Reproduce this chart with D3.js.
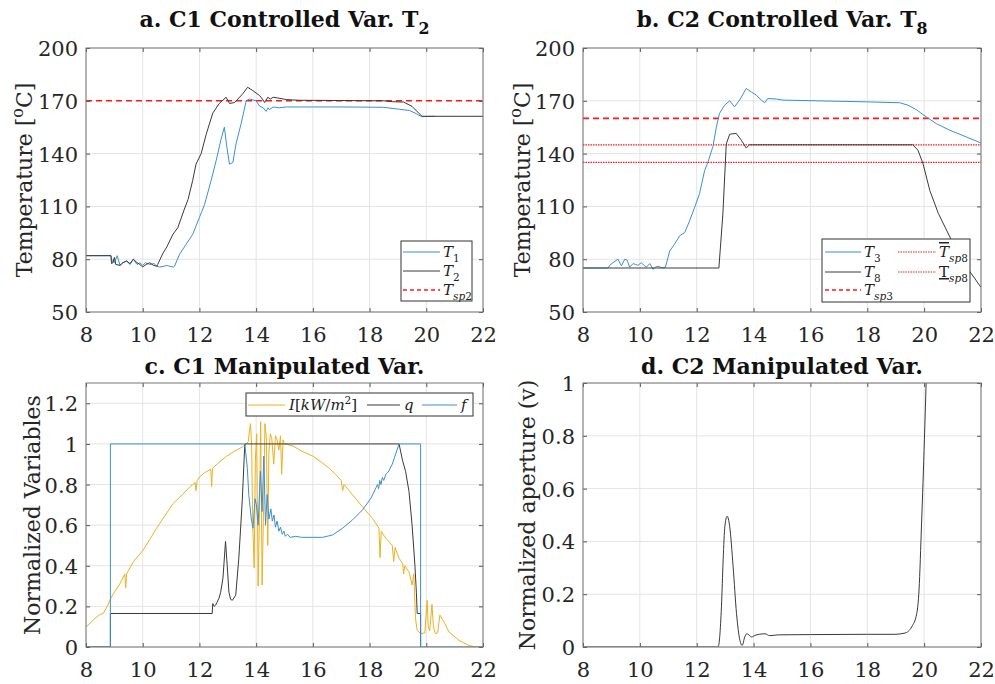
<!DOCTYPE html>
<html><head><meta charset="utf-8">
<script src="https://cdn.jsdelivr.net/npm/d3@7"></script>
<style>
html,body{margin:0;padding:0;background:#fff;}
</style></head>
<body>
<svg id="chart" width="995" height="684"></svg>
<script>
// ---------------- DATA ----------------
const xTicks = [8, 10, 12, 14, 16, 18, 20, 22];
const tempTicks = [50, 80, 110, 140, 170, 200];
const normTicksC = [0, 0.2, 0.4, 0.6, 0.8, 1, 1.2];
const normTicksD = [0, 0.2, 0.4, 0.6, 0.8, 1];

const T1 = [[8,82],[8.88,82],[8.92,79],[9.0,78],[9.1,82],[9.2,76.5],[9.3,78],[9.43,79],[9.55,77],[9.67,80],[9.8,77],[9.9,78],[10.0,76.5],[10.1,78],[10.25,77],[10.4,77.5],[10.5,76],[10.6,75.5],[10.75,76],[10.84,76.5],[10.95,76],[11.08,75.5],[11.12,76],[11.3,82.8],[11.53,88.5],[11.76,94],[12.0,103.7],[12.18,111],[12.41,124.6],[12.59,136],[12.76,148],[12.88,155],[12.96,144.5],[13.06,134],[13.18,135],[13.29,145.5],[13.47,157],[13.65,170],[13.76,171],[14.0,170],[14.12,167],[14.25,166],[14.35,164],[14.42,166],[14.47,165],[14.6,166.5],[14.82,166],[15.06,166.5],[16,166.5],[17,166.5],[18.5,166.3],[19.05,165.2],[19.4,164.5],[19.65,162.7],[19.83,161],[20.3,161.2]];
const T2 = [[8,82],[8.88,82],[8.9,77.5],[8.95,78],[9.0,81],[9.05,77],[9.2,76.5],[9.3,78],[9.43,79],[9.55,77.5],[9.67,80],[9.8,78],[9.9,77],[10.0,75.6],[10.12,77],[10.25,78],[10.38,76.5],[10.5,76],[10.53,77],[10.7,83],[10.85,87],[11.06,94],[11.24,98],[11.47,108.5],[11.6,114],[11.76,124.6],[11.88,134],[12.06,140],[12.24,151],[12.47,163],[12.7,168.5],[12.94,172],[13.06,168.5],[13.24,169],[13.53,174],[13.7,177.7],[13.88,175.8],[14.12,173],[14.22,171],[14.3,169],[14.41,172],[14.5,171],[14.6,172],[14.8,171.5],[15.06,170.7],[15.5,170.3],[16.5,170.2],[18.5,170],[18.8,169.5],[19.2,169.3],[19.5,166.8],[19.75,162.7],[19.85,161.2],[22,161.2]];
const Tsp2 = 170;

const T3 = [[8,75],[8.88,75],[8.94,76.5],[9.05,78],[9.23,80],[9.35,76.2],[9.47,80],[9.55,79.5],[9.64,75.5],[9.76,77.5],[9.85,77],[9.93,76.5],[10.05,78],[10.15,76.5],[10.23,75.5],[10.35,77.5],[10.46,74.3],[10.55,75.5],[10.64,76],[10.72,75.5],[10.81,75],[10.9,75.5],[11.05,84.7],[11.22,88.5],[11.4,93.3],[11.58,95.2],[11.75,101.8],[11.93,109.6],[12.1,117.3],[12.28,130.5],[12.4,135.3],[12.57,144],[12.69,155],[12.8,162.8],[12.98,167.5],[13.16,170],[13.33,166.6],[13.51,170.4],[13.74,177],[13.92,175],[14.1,173.2],[14.27,170.4],[14.39,168.9],[14.5,171.3],[14.8,171],[15.03,170.4],[16.2,170],[17.97,169.4],[19.14,168.9],[19.43,167.5],[19.72,165],[20.07,160.9],[20.43,157],[20.9,153.3],[21.48,149.5],[22,146]];
const T8 = [[8,75],[12.78,75],[12.92,105.6],[13.04,145.5],[13.16,151],[13.39,151.5],[13.57,147.6],[13.74,143.2],[13.86,145],[14.1,145],[19.6,145],[19.78,142],[19.96,134.3],[20.2,119],[20.5,106],[20.97,90.5],[21.62,72.7],[22,64]];
const Tsp3 = 160;
const Tsp8Upper = 145;
const Tsp8Lower = 135;

const irr = [[8,0.099],[8.2,0.125],[8.38,0.148],[8.5,0.16],[8.61,0.165],[8.75,0.2],[8.9,0.247],[9.05,0.28],[9.2,0.313],[9.3,0.34],[9.37,0.36],[9.4,0.29],[9.43,0.36],[9.55,0.39],[9.67,0.42],[9.85,0.45],[10.02,0.478],[10.25,0.53],[10.49,0.585],[10.8,0.65],[11.08,0.708],[11.4,0.75],[11.67,0.79],[11.85,0.81],[11.88,0.77],[11.92,0.82],[12.02,0.84],[12.2,0.86],[12.4,0.875],[12.43,0.79],[12.46,0.88],[12.7,0.91],[12.96,0.94],[13.25,0.965],[13.55,0.988],[13.72,1.01],[13.76,1.06],[13.8,1.1],[13.84,1.0],[13.88,0.6],[13.93,0.39],[13.97,0.91],[14.02,1.05],[14.07,0.3],[14.12,0.67],[14.16,1.11],[14.21,0.305],[14.26,0.67],[14.31,1.1],[14.36,1.03],[14.41,0.5],[14.45,0.96],[14.5,1.05],[14.55,1.03],[14.62,0.9],[14.68,1.04],[14.74,1.02],[14.8,0.97],[14.86,1.04],[14.9,0.85],[14.95,1.02],[15.0,1.0],[15.3,0.99],[15.6,0.965],[16,0.94],[16.3,0.91],[16.58,0.88],[16.8,0.85],[17.0,0.82],[17.05,0.77],[17.1,0.8],[17.4,0.75],[17.75,0.69],[18.1,0.634],[18.33,0.585],[18.37,0.44],[18.41,0.57],[18.57,0.536],[18.8,0.5],[18.85,0.42],[18.9,0.49],[19.04,0.437],[19.17,0.41],[19.2,0.36],[19.24,0.4],[19.39,0.37],[19.5,0.305],[19.56,0.36],[19.62,0.14],[19.68,0.082],[19.8,0.066],[19.95,0.07],[20.03,0.23],[20.07,0.1],[20.12,0.08],[20.2,0.21],[20.25,0.1],[20.32,0.066],[20.4,0.07],[20.48,0.157],[20.6,0.13],[20.8,0.074],[21.15,0.033],[21.5,0.008],[21.73,0],[22,0]];
const qVal = [[8,0],[8.86,0],[8.86,0.165],[12.45,0.165],[12.47,0.214],[12.52,0.2],[12.57,0.206],[12.62,0.22],[12.69,0.24],[12.75,0.27],[12.83,0.34],[12.92,0.52],[12.98,0.4],[13.04,0.27],[13.1,0.235],[13.16,0.23],[13.28,0.255],[13.39,0.44],[13.51,0.72],[13.6,1.0],[19.04,1],[19.16,0.92],[19.27,0.865],[19.39,0.766],[19.5,0.6],[19.6,0.4],[19.65,0.27],[19.68,0.165],[19.8,0.165],[19.8,0]];
const fVal = [[8,0],[8.86,0],[8.86,1],[13.6,1],[13.69,0.88],[13.74,0.75],[13.83,0.63],[13.89,0.585],[13.96,0.73],[14.01,0.7],[14.07,0.6],[14.15,0.865],[14.21,0.667],[14.27,0.94],[14.33,0.6],[14.39,0.75],[14.45,0.63],[14.52,0.68],[14.57,0.62],[14.63,0.65],[14.68,0.59],[14.74,0.62],[14.8,0.57],[14.86,0.59],[14.92,0.555],[14.98,0.57],[15.03,0.545],[15.1,0.555],[15.2,0.54],[15.4,0.545],[15.6,0.54],[16,0.54],[16.35,0.54],[16.7,0.552],[17.05,0.585],[17.4,0.626],[17.75,0.675],[18.05,0.733],[18.28,0.8],[18.32,0.78],[18.36,0.82],[18.4,0.8],[18.45,0.835],[18.5,0.82],[18.57,0.85],[18.65,0.86],[18.8,0.9],[18.92,0.95],[19.04,1.0],[19.8,1],[19.8,0],[22,0]];

const vVal = [[8,0],[12.75,0],[12.87,0.152],[12.93,0.33],[12.99,0.457],[13.07,0.495],[13.16,0.457],[13.28,0.305],[13.4,0.127],[13.52,0.025],[13.6,0.006],[13.69,0.038],[13.76,0.05],[13.81,0.048],[13.93,0.038],[14.05,0.044],[14.2,0.048],[14.4,0.05],[14.57,0.043],[14.87,0.046],[16,0.047],[18,0.048],[18.97,0.048],[19.33,0.053],[19.56,0.076],[19.74,0.127],[19.82,0.216],[19.91,0.47],[20.01,0.787],[20.07,1.0],[20.1,1.1]];

// ---------------- STYLE ----------------
const FONT = "DejaVu Serif, serif";
const BLUE = "#3b8fd3", BLACK = "#3a3a3a", YELLOW = "#edb120", RED = "#ff1a1a";
const svg = d3.select("#chart").attr("font-family", FONT);
let clipId = 0;

function rich(textSel, parts, baseSize) {
  let shift = 0;
  textSel.attr("font-family", FONT);
  parts.forEach(p => {
    const o = p[1] || {};
    const target = o.sub ? baseSize * 0.3 : (o.sup ? -baseSize * 0.4 : 0);
    const ts = textSel.append("tspan").text(p[0]);
    if (target - shift !== 0) ts.attr("dy", target - shift);
    shift = target;
    ts.attr("font-size", (o.sub || o.sup) ? baseSize * (o.scale || 0.7) : baseSize);
    if (o.it) ts.attr("font-style", "italic");
    if (o.deco) ts.attr("text-decoration", o.deco);
  });
}

function panel(o) {
  const x = d3.scaleLinear().domain([8, 22]).range([o.l, o.r]);
  const y = d3.scaleLinear().domain(o.yd).range([o.b, o.t]);
  const g = svg.append("g");
  g.selectAll(".gx").data(xTicks).enter().append("line")
    .attr("x1", d => x(d)).attr("x2", d => x(d)).attr("y1", o.t).attr("y2", o.b)
    .attr("stroke", "#e4e4e4").attr("stroke-width", 1);
  g.selectAll(".gy").data(o.yTicks).enter().append("line")
    .attr("y1", d => y(d)).attr("y2", d => y(d)).attr("x1", o.l).attr("x2", o.r)
    .attr("stroke", "#e4e4e4").attr("stroke-width", 1);
  const id = "clip" + (clipId++);
  svg.append("clipPath").attr("id", id).append("rect")
    .attr("x", o.l).attr("y", o.t).attr("width", o.r - o.l).attr("height", o.b - o.t);
  const pg = g.append("g").attr("clip-path", `url(#${id})`);
  o.hlines.forEach(h => {
    pg.append("line").attr("x1", o.l).attr("x2", o.r).attr("y1", y(h.v)).attr("y2", y(h.v))
      .attr("stroke", RED).attr("stroke-width", h.w || 1.4).attr("stroke-dasharray", h.dash);
  });
  o.series.forEach(s => {
    const line = d3.line().x(d => x(d[0])).y(d => y(d[1])).curve(s.curve || d3.curveLinear);
    pg.append("path").attr("d", line(s.data)).attr("fill", "none")
      .attr("stroke", s.color).attr("stroke-width", s.w || 1).attr("stroke-linejoin", "round");
  });
  const fmtY = o.fmtY || (d => d);
  const ax = g.append("g").attr("transform", `translate(0,${o.b})`)
    .call(d3.axisBottom(x).tickValues(xTicks).tickSize(-4).tickPadding(15));
  const axT = g.append("g").attr("transform", `translate(0,${o.t})`)
    .call(d3.axisTop(x).tickValues(xTicks).tickSize(-4).tickFormat(""));
  const ay = g.append("g").attr("transform", `translate(${o.l},0)`)
    .call(d3.axisLeft(y).tickValues(o.yTicks).tickSize(-4).tickPadding(8).tickFormat(fmtY));
  const ayR = g.append("g").attr("transform", `translate(${o.r},0)`)
    .call(d3.axisRight(y).tickValues(o.yTicks).tickSize(-4).tickFormat(""));
  [ax, axT, ay, ayR].forEach(a => {
    a.attr("font-family", FONT).attr("font-size", 21);
    a.select(".domain").remove();
    a.selectAll(".tick line").attr("stroke", "#555");
    a.selectAll("text").attr("font-size", 21).attr("fill", "#262626");
  });
  ay.selectAll("text").attr("dy", "0.36em");
  g.append("rect").attr("x", o.l).attr("y", o.t).attr("width", o.r - o.l).attr("height", o.b - o.t)
    .attr("fill", "none").attr("stroke", "#777").attr("stroke-width", 1);
  const tt = g.append("text").attr("x", (o.l + o.r) / 2).attr("y", o.titleY)
    .attr("text-anchor", "middle").attr("font-weight", "bold").attr("fill", "#111");
  rich(tt, o.title, 22);
  const yl = g.append("text").attr("transform", `translate(${o.ylx},${(o.t + o.b) / 2}) rotate(-90)`)
    .attr("text-anchor", "middle").attr("fill", "#262626");
  rich(yl, o.ylabel, 22);
  return {x, y, g};
}

function legend(box, items) {
  const lg = svg.append("g");
  lg.append("rect").attr("x", box.x).attr("y", box.y).attr("width", box.w).attr("height", box.h)
    .attr("fill", "#fff").attr("stroke", "#333").attr("stroke-width", 1);
  items.forEach(it => {
    lg.append("line").attr("x1", it.x1).attr("x2", it.x2).attr("y1", it.y).attr("y2", it.y)
      .attr("stroke", it.color).attr("stroke-width", it.w || 1).attr("stroke-dasharray", it.dash || null);
    const t = lg.append("text").attr("x", it.tx).attr("y", it.y + 5).attr("fill", "#222");
    rich(t, it.label, 15);
  });
}

const tempLabel = [["Temperature ["], ["o", {sup: true, scale: 0.72}], ["C]"]];

panel({l: 86, r: 483, t: 48, b: 312, yd: [50, 200], yTicks: tempTicks, titleY: 27, ylx: 32,
  title: [["a. C1 Controlled Var. T"], ["2", {sub: true, scale: 0.72}]], ylabel: tempLabel,
  hlines: [{v: Tsp2, dash: "6,4", w: 1.6}],
  series: [{data: T1, color: BLUE}, {data: T2, color: BLACK}]});
legend({x: 401, y: 241, w: 71, h: 60}, [
  {x1: 403, x2: 440, y: 252, tx: 443, color: BLUE, label: [["T", {it: true}], ["1", {sub: true}]]},
  {x1: 403, x2: 440, y: 271, tx: 443, color: BLACK, label: [["T", {it: true}], ["2", {sub: true}]]},
  {x1: 403, x2: 440, y: 290, tx: 443, color: RED, dash: "4,3", w: 1.4, label: [["T", {it: true}], ["sp", {sub: true, it: true}], ["2", {sub: true}]]}
]);

panel({l: 583, r: 981, t: 48, b: 312, yd: [50, 200], yTicks: tempTicks, titleY: 27, ylx: 530,
  title: [["b. C2 Controlled Var. T"], ["8", {sub: true, scale: 0.72}]], ylabel: tempLabel,
  hlines: [{v: Tsp3, dash: "6,4", w: 1.6}, {v: Tsp8Upper, dash: "1.5,1", w: 1.3}, {v: Tsp8Lower, dash: "1.5,1", w: 1.3}],
  series: [{data: T3, color: BLUE}, {data: T8, color: BLACK}]});
legend({x: 822, y: 239, w: 148, h: 63}, [
  {x1: 825, x2: 861, y: 252, tx: 864, color: BLUE, label: [["T", {it: true}], ["3", {sub: true}]]},
  {x1: 825, x2: 861, y: 272, tx: 864, color: BLACK, label: [["T", {it: true}], ["8", {sub: true}]]},
  {x1: 825, x2: 861, y: 290, tx: 864, color: RED, dash: "4,3", w: 1.4, label: [["T", {it: true}], ["sp", {sub: true, it: true}], ["3", {sub: true}]]},
  {x1: 898, x2: 936, y: 252, tx: 939, color: RED, dash: "1.5,1", w: 1.2, label: [["T", {it: true, deco: "overline"}], ["sp", {sub: true, it: true}], ["8", {sub: true}]]},
  {x1: 898, x2: 936, y: 272, tx: 939, color: RED, dash: "1.5,1", w: 1.2, label: [["T", {deco: "underline"}], ["sp", {sub: true, it: true}], ["8", {sub: true}]]}
]);

panel({l: 86, r: 483, t: 383, b: 647, yd: [0, 1.3], yTicks: normTicksC, titleY: 374, ylx: 40,
  title: [["c. C1 Manipulated Var."]], ylabel: [["Normalized Variables"]],
  fmtY: d => String(d), hlines: [],
  series: [{data: irr, color: YELLOW}, {data: qVal, color: BLACK}, {data: fVal, color: BLUE}]});
legend({x: 246, y: 393, w: 227, h: 23}, [
  {x1: 248, x2: 285, y: 405, tx: 289, color: YELLOW, label: [["I", {it: true}], ["["], ["kW", {it: true}], ["/"], ["m", {it: true}], ["2", {sup: true}], ["]"]]},
  {x1: 367, x2: 400, y: 405, tx: 404, color: BLACK, label: [["q", {it: true}]]},
  {x1: 422, x2: 457, y: 405, tx: 461, color: BLUE, label: [["f", {it: true}]]}
]);

panel({l: 583, r: 981, t: 383, b: 647, yd: [0, 1], yTicks: normTicksD, titleY: 374, ylx: 535,
  title: [["d. C2 Manipulated Var."]], ylabel: [["Normalized aperture (v)"]],
  fmtY: d => String(d), hlines: [],
  series: [{data: vVal, color: BLACK, curve: d3.curveMonotoneX}]});
</script>
</body></html>
